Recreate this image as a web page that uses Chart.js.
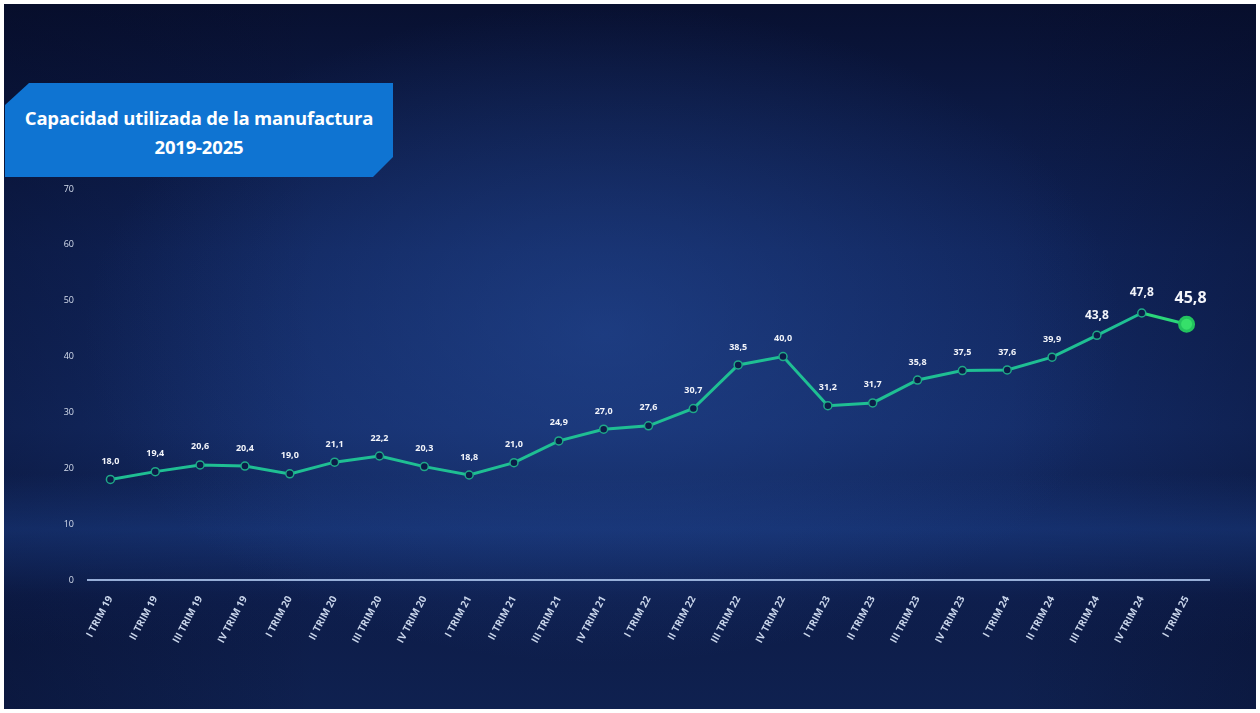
<!DOCTYPE html>
<html>
<head>
<meta charset="utf-8">
<script src="https://cdn.jsdelivr.net/npm/chart.js@4.4.1/dist/chart.umd.min.js"></script>
<style>
  html, body { margin: 0; padding: 0; background: #fff; }
  #frame {
    position: absolute; left: 4px; top: 4px; width: 1252px; height: 705px; overflow: hidden;
    background:
      radial-gradient(ellipse 520px 330px at 600px 330px, rgba(40,80,160,0.5), rgba(40,80,160,0) 100%),
      linear-gradient(180deg, rgba(0,0,0,0) 470px, rgba(30,70,150,0.4) 525px, rgba(20,45,110,0.15) 590px, rgba(0,0,0,0) 640px),
      linear-gradient(90deg, rgba(5,10,35,0.35) 0%, rgba(0,0,0,0) 25%, rgba(0,0,0,0) 80%, rgba(5,10,35,0.3) 100%),
      linear-gradient(180deg, #081030 0%, #10245a 35%, #142c68 60%, #0d1c48 85%, #0f2150 100%);
  }
  #title {
    position: absolute; left: 1px; top: 79px; width: 388px; height: 94px;
    background: #0f74d2;
    clip-path: polygon(24px 0, 100% 0, 100% 74px, 368px 100%, 0 100%, 0 22px);
    color: #fff; font-family: "Open Sans", sans-serif; font-weight: 700; font-size: 18.5px;
    letter-spacing: -0.2px;
    text-align: center; line-height: 29px; padding-top: 20px; box-sizing: border-box;
  }
  #chart { position: absolute; left: 0; top: 0; }
</style>
</head>
<body>
<div id="frame">
  <div id="title">Capacidad utilizada de la manufactura<br>2019-2025</div>
  <canvas id="chart" width="1252" height="705"></canvas>
</div>
<script>
  const quarters = ["I", "II", "III", "IV"]
  const years = ["19", "20", "21", "22", "23", "24", "25"]
  let labels = []
  for (let y = 0; y < years.length; y++) {
    for (let q = 0; q < quarters.length; q++) {
      if (labels.length < 25) labels.push(quarters[q] + " TRIM " + years[y])
    }
  }

  const values = [18.0, 19.4, 20.6, 20.4, 19.0, 21.1, 22.2, 20.3, 18.8, 21.0, 24.9, 27.0, 27.6,
    30.7, 38.5, 40.0, 31.2, 31.7, 35.8, 37.5, 37.6, 39.9, 43.8, 47.8, 45.8]
  const yTicks = [0, 10, 20, 30, 40, 50, 60, 70]

  const last = values.length - 1

  const valueLabels = {
    id: "valueLabels",
    afterDatasetsDraw(chart) {
      const ctx = chart.ctx
      const meta = chart.getDatasetMeta(0)
      ctx.save()
      ctx.textAlign = "center"
      ctx.textBaseline = "middle"
      ctx.fillStyle = "#f2f4fa"
      for (let i = 0; i < values.length; i++) {
        const p = meta.data[i]
        const txt = values[i].toFixed(1).replace(".", ",")
        let size = 9, dy = 18, dx = 0
        if (i == last - 1 || i == last - 2) { size = 12; dy = 20 }
        if (i == last) { size = 16; dy = 26; dx = 4 }
        ctx.font = "bold " + size + "px 'Open Sans', sans-serif"
        ctx.fillText(txt, p.x + dx, p.y - dy)
      }
      ctx.restore()
    }
  }

  new Chart(document.getElementById("chart"), {
    type: "line",
    data: {
      labels: labels,
      datasets: [{
        data: values,
        borderColor: "#1fbf93",
        borderWidth: 3,
        segment: {
          borderColor: c => c.p1DataIndex == last ? "#2bd67a" : "#1fbf93"
        },
        pointRadius: values.map((v, i) => i == last ? 7 : 4),
        pointBackgroundColor: values.map((v, i) => i == last ? "#36e06a" : "#0c1c48"),
        pointBorderColor: values.map((v, i) => i == last ? "#23c35e" : "#1fa988"),
        pointBorderWidth: values.map((v, i) => i == last ? 3 : 1.5),
        tension: 0
      }]
    },
    options: {
      responsive: false,
      animation: false,
      layout: { padding: { top: 185, left: 48, right: 47, bottom: 0 } },
      plugins: { legend: { display: false }, tooltip: { enabled: false } },
      scales: {
        x: {
          offset: true,
          grid: { display: false },
          border: { display: true, color: "rgba(175,200,240,0.85)", width: 2 },
          ticks: {
            color: "#c9d5ea",
            font: { size: 10, weight: "bold", family: "'Open Sans', sans-serif" },
            minRotation: 62, maxRotation: 62, padding: 6, autoSkip: false
          },
          afterFit(scale) { scale.height = 129 }
        },
        y: {
          min: 0, max: 70,
          grid: { display: false, drawTicks: false },
          border: { display: false },
          afterBuildTicks(scale) { scale.ticks = yTicks.map(v => ({ value: v })) },
          ticks: {
            color: "#d6deee",
            font: { size: 9, family: "'Open Sans', sans-serif" },
            padding: 14
          },
          afterFit(scale) { scale.width = 36 }
        }
      }
    },
    plugins: [valueLabels]
  })
</script>
</body>
</html>
